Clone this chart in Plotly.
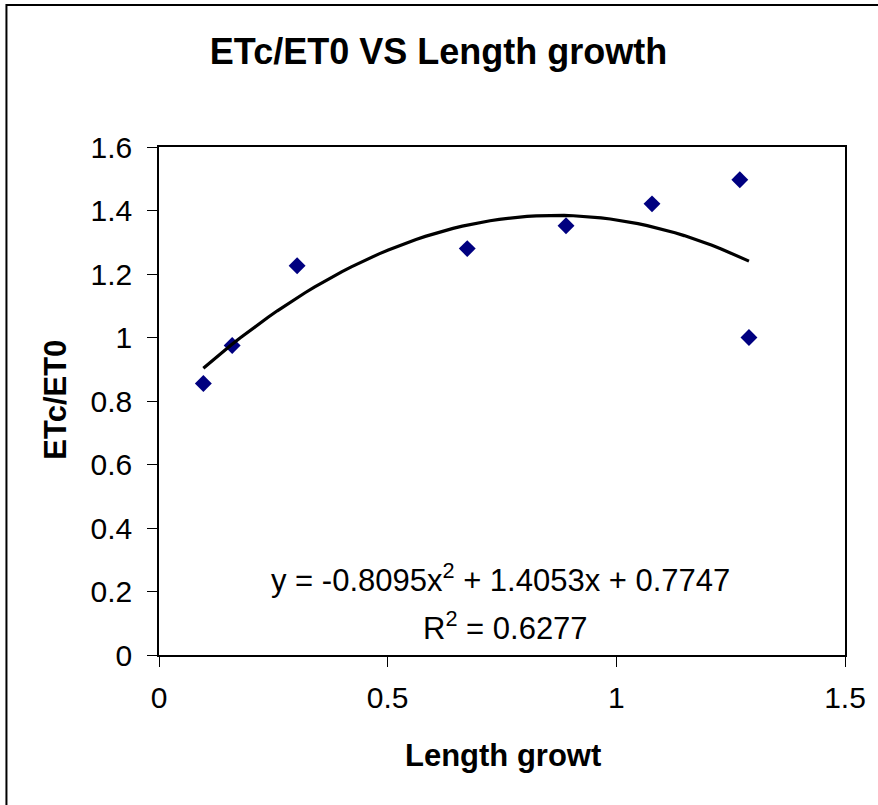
import numpy as np
import plotly.graph_objects as go

# Data
length_growth = [0.097, 0.16, 0.302, 0.674, 0.89, 1.078, 1.27, 1.29]
etc_et0 = [0.855, 0.975, 1.226, 1.28, 1.352, 1.421, 1.497, 1.0]

# Trendline coefficients as printed on the chart
coef_a, coef_b, coef_c = -0.8095, 1.4053, 0.7747
r_squared = 0.6277

x_ticks = [0, 0.5, 1, 1.5]
x_tick_labels = ["0", "0.5", "1", "1.5"]
y_ticks = [0, 0.2, 0.4, 0.6, 0.8, 1, 1.2, 1.4, 1.6]
y_tick_labels = ["0", "0.2", "0.4", "0.6", "0.8", "1", "1.2", "1.4", "1.6"]

W, H = 878, 805
ML, MR, MT, MB = 159, 22, 147, 150

trend_x = np.linspace(min(length_growth), max(length_growth), 60)
trend_y = coef_a * trend_x**2 + coef_b * trend_x + coef_c

FONT = "Liberation Sans, Arial, sans-serif"

fig = go.Figure()
fig.add_trace(go.Scatter(
    x=length_growth, y=etc_et0, mode="markers",
    marker=dict(symbol="diamond", size=13, color="#000080",
                line=dict(width=0)),
    showlegend=False, hoverinfo="x+y"))
fig.add_trace(go.Scatter(
    x=trend_x, y=trend_y, mode="lines",
    line=dict(color="black", width=3.2),
    showlegend=False, hoverinfo="skip"))

pw = W - ML - MR
ph = H - MT - MB

def px_x(p):
    return (p - ML) / pw

def px_y(p):
    return (H - MB - p) / ph

fig.update_layout(
    width=W, height=H,
    margin=dict(l=ML, r=MR, t=MT, b=MB),
    paper_bgcolor="white", plot_bgcolor="white",
    font=dict(family=FONT, color="black", size=30),
    title=dict(text="<b>ETc/ET0 VS Length growth</b>",
               font=dict(size=36, family=FONT, color="black"),
               x=px_x(443), xref="paper", xanchor="center",
               y=1 - 51 / H, yanchor="middle"),
    xaxis=dict(range=[0, 1.5], tickvals=x_ticks, ticktext=x_tick_labels,
               showgrid=False, zeroline=False,
               showline=True, linecolor="black", linewidth=1.5, mirror=True,
               ticks="outside", ticklen=10, tickcolor="black", tickwidth=1,
               ticklabelstandoff=5,
               tickfont=dict(size=30, family=FONT, color="black")),
    yaxis=dict(range=[0, 1.6], tickvals=y_ticks, ticktext=y_tick_labels,
               showgrid=False, zeroline=False,
               showline=True, linecolor="black", linewidth=1.5, mirror=True,
               ticks="outside", ticklen=10, tickcolor="black", tickwidth=1,
               ticklabelstandoff=9,
               tickfont=dict(size=30, family=FONT, color="black")),
    annotations=[
        dict(text="<b>Length growt</b>", xref="paper", yref="paper",
             x=px_x(509), y=px_y(755), xanchor="center", yanchor="middle",
             showarrow=False, font=dict(size=31, family=FONT, color="black")),
        dict(text="<b>ETc/ET0</b>", xref="paper", yref="paper",
             x=px_x(53), y=px_y(400), xanchor="center", yanchor="middle",
             textangle=-90, showarrow=False,
             font=dict(size=31, family=FONT, color="black")),
        dict(text=f"y = {coef_a}x<sup>2</sup> + {coef_b}x + {coef_c}",
             xref="paper", yref="paper",
             x=px_x(506), y=px_y(578), xanchor="center", yanchor="middle",
             showarrow=False, font=dict(size=31, family=FONT, color="black")),
        dict(text=f"R<sup>2</sup> = {r_squared}",
             xref="paper", yref="paper",
             x=px_x(511), y=px_y(626), xanchor="center", yanchor="middle",
             showarrow=False, font=dict(size=31, family=FONT, color="black")),
    ],
    shapes=[
        dict(type="rect", xref="paper", yref="paper",
             x0=px_x(4), y0=px_y(H + 40), x1=px_x(W + 40), y1=px_y(5),
             line=dict(color="black", width=2), fillcolor="rgba(0,0,0,0)",
             layer="below"),
    ],
)

fig.write_html("out.html",
               config={"displayModeBar": False},
               post_script="document.body.style.margin='0';"
                           "document.body.style.overflow='hidden';")
